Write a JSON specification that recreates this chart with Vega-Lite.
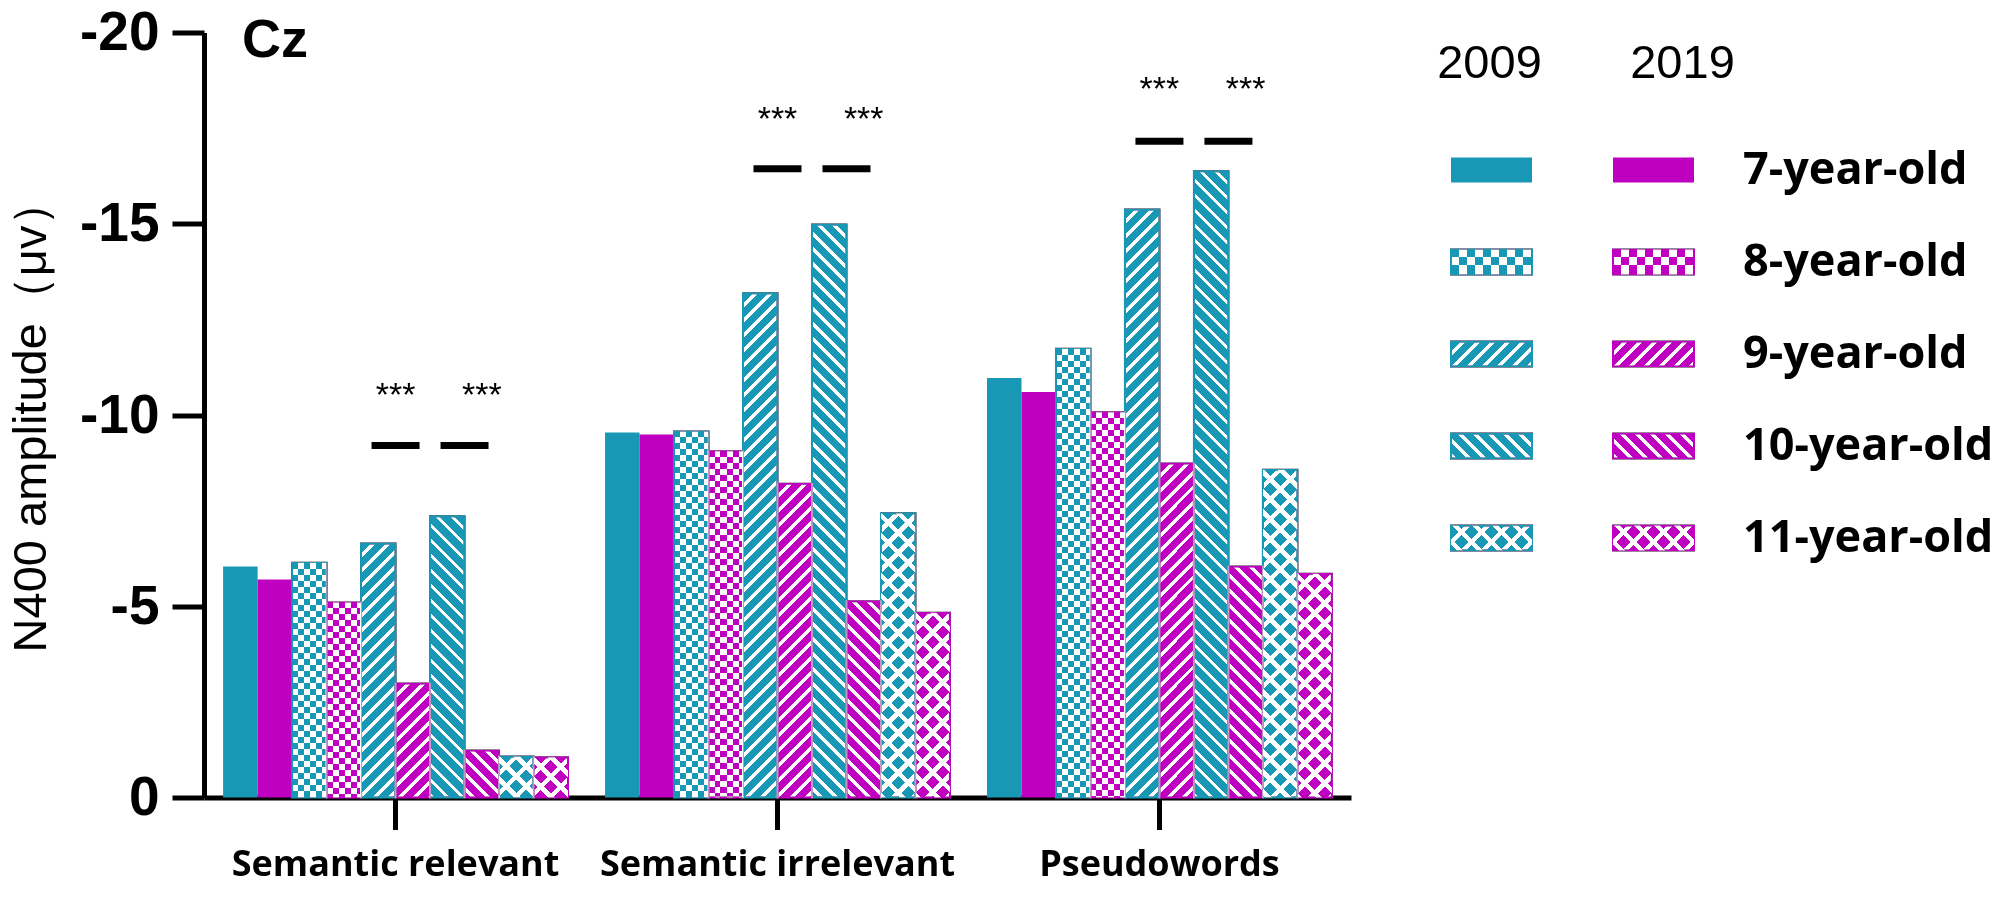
{
"$schema": "https://vega.github.io/schema/vega-lite/v6.json",
"background": "white",
"padding": {"left": 7, "top": 5.5, "right": 0, "bottom": 0},
"spacing": 86,
"params": [{"name": "bw", "value": [
{"offset":0,"color":"#000"},{"offset":0.0142,"color":"#000"},{"offset":0.0142,"color":"#fff"},{"offset":0.0208,"color":"#fff"},
{"offset":0.0208,"color":"#000"},{"offset":0.035,"color":"#000"},{"offset":0.035,"color":"#fff"},{"offset":0.0417,"color":"#fff"},
{"offset":0.0417,"color":"#000"},{"offset":0.0558,"color":"#000"},{"offset":0.0558,"color":"#fff"},{"offset":0.0625,"color":"#fff"},
{"offset":0.0625,"color":"#000"},{"offset":0.0767,"color":"#000"},{"offset":0.0767,"color":"#fff"},{"offset":0.0833,"color":"#fff"},
{"offset":0.0833,"color":"#000"},{"offset":0.0975,"color":"#000"},{"offset":0.0975,"color":"#fff"},{"offset":0.1042,"color":"#fff"},
{"offset":0.1042,"color":"#000"},{"offset":0.1183,"color":"#000"},{"offset":0.1183,"color":"#fff"},{"offset":0.125,"color":"#fff"},
{"offset":0.125,"color":"#000"},{"offset":0.1392,"color":"#000"},{"offset":0.1392,"color":"#fff"},{"offset":0.1458,"color":"#fff"},
{"offset":0.1458,"color":"#000"},{"offset":0.16,"color":"#000"},{"offset":0.16,"color":"#fff"},{"offset":0.1667,"color":"#fff"},
{"offset":0.1667,"color":"#000"},{"offset":0.1808,"color":"#000"},{"offset":0.1808,"color":"#fff"},{"offset":0.1875,"color":"#fff"},
{"offset":0.1875,"color":"#000"},{"offset":0.2017,"color":"#000"},{"offset":0.2017,"color":"#fff"},{"offset":0.2083,"color":"#fff"},
{"offset":0.2083,"color":"#000"},{"offset":0.2225,"color":"#000"},{"offset":0.2225,"color":"#fff"},{"offset":0.2292,"color":"#fff"},
{"offset":0.2292,"color":"#000"},{"offset":0.2433,"color":"#000"},{"offset":0.2433,"color":"#fff"},{"offset":0.25,"color":"#fff"},
{"offset":0.25,"color":"#000"},{"offset":0.2642,"color":"#000"},{"offset":0.2642,"color":"#fff"},{"offset":0.2708,"color":"#fff"},
{"offset":0.2708,"color":"#000"},{"offset":0.285,"color":"#000"},{"offset":0.285,"color":"#fff"},{"offset":0.2917,"color":"#fff"},
{"offset":0.2917,"color":"#000"},{"offset":0.3058,"color":"#000"},{"offset":0.3058,"color":"#fff"},{"offset":0.3125,"color":"#fff"},
{"offset":0.3125,"color":"#000"},{"offset":0.3267,"color":"#000"},{"offset":0.3267,"color":"#fff"},{"offset":0.3333,"color":"#fff"},
{"offset":0.3333,"color":"#000"},{"offset":0.3475,"color":"#000"},{"offset":0.3475,"color":"#fff"},{"offset":0.3542,"color":"#fff"},
{"offset":0.3542,"color":"#000"},{"offset":0.3683,"color":"#000"},{"offset":0.3683,"color":"#fff"},{"offset":0.375,"color":"#fff"},
{"offset":0.375,"color":"#000"},{"offset":0.3892,"color":"#000"},{"offset":0.3892,"color":"#fff"},{"offset":0.3958,"color":"#fff"},
{"offset":0.3958,"color":"#000"},{"offset":0.41,"color":"#000"},{"offset":0.41,"color":"#fff"},{"offset":0.4167,"color":"#fff"},
{"offset":0.4167,"color":"#000"},{"offset":0.4308,"color":"#000"},{"offset":0.4308,"color":"#fff"},{"offset":0.4375,"color":"#fff"},
{"offset":0.4375,"color":"#000"},{"offset":0.4517,"color":"#000"},{"offset":0.4517,"color":"#fff"},{"offset":0.4583,"color":"#fff"},
{"offset":0.4583,"color":"#000"},{"offset":0.4725,"color":"#000"},{"offset":0.4725,"color":"#fff"},{"offset":0.4792,"color":"#fff"},
{"offset":0.4792,"color":"#000"},{"offset":0.4933,"color":"#000"},{"offset":0.4933,"color":"#fff"},{"offset":0.5,"color":"#fff"},
{"offset":0.5,"color":"#000"},{"offset":0.5142,"color":"#000"},{"offset":0.5142,"color":"#fff"},{"offset":0.5208,"color":"#fff"},
{"offset":0.5208,"color":"#000"},{"offset":0.535,"color":"#000"},{"offset":0.535,"color":"#fff"},{"offset":0.5417,"color":"#fff"},
{"offset":0.5417,"color":"#000"},{"offset":0.5558,"color":"#000"},{"offset":0.5558,"color":"#fff"},{"offset":0.5625,"color":"#fff"},
{"offset":0.5625,"color":"#000"},{"offset":0.5767,"color":"#000"},{"offset":0.5767,"color":"#fff"},{"offset":0.5833,"color":"#fff"},
{"offset":0.5833,"color":"#000"},{"offset":0.5975,"color":"#000"},{"offset":0.5975,"color":"#fff"},{"offset":0.6042,"color":"#fff"},
{"offset":0.6042,"color":"#000"},{"offset":0.6183,"color":"#000"},{"offset":0.6183,"color":"#fff"},{"offset":0.625,"color":"#fff"},
{"offset":0.625,"color":"#000"},{"offset":0.6392,"color":"#000"},{"offset":0.6392,"color":"#fff"},{"offset":0.6458,"color":"#fff"},
{"offset":0.6458,"color":"#000"},{"offset":0.66,"color":"#000"},{"offset":0.66,"color":"#fff"},{"offset":0.6667,"color":"#fff"},
{"offset":0.6667,"color":"#000"},{"offset":0.6808,"color":"#000"},{"offset":0.6808,"color":"#fff"},{"offset":0.6875,"color":"#fff"},
{"offset":0.6875,"color":"#000"},{"offset":0.7017,"color":"#000"},{"offset":0.7017,"color":"#fff"},{"offset":0.7083,"color":"#fff"},
{"offset":0.7083,"color":"#000"},{"offset":0.7225,"color":"#000"},{"offset":0.7225,"color":"#fff"},{"offset":0.7292,"color":"#fff"},
{"offset":0.7292,"color":"#000"},{"offset":0.7433,"color":"#000"},{"offset":0.7433,"color":"#fff"},{"offset":0.75,"color":"#fff"},
{"offset":0.75,"color":"#000"},{"offset":0.7642,"color":"#000"},{"offset":0.7642,"color":"#fff"},{"offset":0.7708,"color":"#fff"},
{"offset":0.7708,"color":"#000"},{"offset":0.785,"color":"#000"},{"offset":0.785,"color":"#fff"},{"offset":0.7917,"color":"#fff"},
{"offset":0.7917,"color":"#000"},{"offset":0.8058,"color":"#000"},{"offset":0.8058,"color":"#fff"},{"offset":0.8125,"color":"#fff"},
{"offset":0.8125,"color":"#000"},{"offset":0.8267,"color":"#000"},{"offset":0.8267,"color":"#fff"},{"offset":0.8333,"color":"#fff"},
{"offset":0.8333,"color":"#000"},{"offset":0.8475,"color":"#000"},{"offset":0.8475,"color":"#fff"},{"offset":0.8542,"color":"#fff"},
{"offset":0.8542,"color":"#000"},{"offset":0.8683,"color":"#000"},{"offset":0.8683,"color":"#fff"},{"offset":0.875,"color":"#fff"},
{"offset":0.875,"color":"#000"},{"offset":0.8892,"color":"#000"},{"offset":0.8892,"color":"#fff"},{"offset":0.8958,"color":"#fff"},
{"offset":0.8958,"color":"#000"},{"offset":0.91,"color":"#000"},{"offset":0.91,"color":"#fff"},{"offset":0.9167,"color":"#fff"},
{"offset":0.9167,"color":"#000"},{"offset":0.9308,"color":"#000"},{"offset":0.9308,"color":"#fff"},{"offset":0.9375,"color":"#fff"},
{"offset":0.9375,"color":"#000"},{"offset":0.9517,"color":"#000"},{"offset":0.9517,"color":"#fff"},{"offset":0.9583,"color":"#fff"},
{"offset":0.9583,"color":"#000"},{"offset":0.9725,"color":"#000"},{"offset":0.9725,"color":"#fff"},{"offset":0.9792,"color":"#fff"},
{"offset":0.9792,"color":"#000"},{"offset":0.9933,"color":"#000"},{"offset":0.9933,"color":"#fff"},{"offset":1,"color":"#fff"}
]},
{"name": "bw5", "value": [
{"offset":0,"color":"#000"},{"offset":0.0104,"color":"#000"},{"offset":0.0104,"color":"#fff"},{"offset":0.0208,"color":"#fff"},
{"offset":0.0208,"color":"#000"},{"offset":0.0313,"color":"#000"},{"offset":0.0313,"color":"#fff"},{"offset":0.0417,"color":"#fff"},
{"offset":0.0417,"color":"#000"},{"offset":0.0521,"color":"#000"},{"offset":0.0521,"color":"#fff"},{"offset":0.0625,"color":"#fff"},
{"offset":0.0625,"color":"#000"},{"offset":0.0729,"color":"#000"},{"offset":0.0729,"color":"#fff"},{"offset":0.0833,"color":"#fff"},
{"offset":0.0833,"color":"#000"},{"offset":0.0938,"color":"#000"},{"offset":0.0938,"color":"#fff"},{"offset":0.1042,"color":"#fff"},
{"offset":0.1042,"color":"#000"},{"offset":0.1146,"color":"#000"},{"offset":0.1146,"color":"#fff"},{"offset":0.125,"color":"#fff"},
{"offset":0.125,"color":"#000"},{"offset":0.1354,"color":"#000"},{"offset":0.1354,"color":"#fff"},{"offset":0.1458,"color":"#fff"},
{"offset":0.1458,"color":"#000"},{"offset":0.1563,"color":"#000"},{"offset":0.1563,"color":"#fff"},{"offset":0.1667,"color":"#fff"},
{"offset":0.1667,"color":"#000"},{"offset":0.1771,"color":"#000"},{"offset":0.1771,"color":"#fff"},{"offset":0.1875,"color":"#fff"},
{"offset":0.1875,"color":"#000"},{"offset":0.1979,"color":"#000"},{"offset":0.1979,"color":"#fff"},{"offset":0.2083,"color":"#fff"},
{"offset":0.2083,"color":"#000"},{"offset":0.2188,"color":"#000"},{"offset":0.2188,"color":"#fff"},{"offset":0.2292,"color":"#fff"},
{"offset":0.2292,"color":"#000"},{"offset":0.2396,"color":"#000"},{"offset":0.2396,"color":"#fff"},{"offset":0.25,"color":"#fff"},
{"offset":0.25,"color":"#000"},{"offset":0.2604,"color":"#000"},{"offset":0.2604,"color":"#fff"},{"offset":0.2708,"color":"#fff"},
{"offset":0.2708,"color":"#000"},{"offset":0.2813,"color":"#000"},{"offset":0.2813,"color":"#fff"},{"offset":0.2917,"color":"#fff"},
{"offset":0.2917,"color":"#000"},{"offset":0.3021,"color":"#000"},{"offset":0.3021,"color":"#fff"},{"offset":0.3125,"color":"#fff"},
{"offset":0.3125,"color":"#000"},{"offset":0.3229,"color":"#000"},{"offset":0.3229,"color":"#fff"},{"offset":0.3333,"color":"#fff"},
{"offset":0.3333,"color":"#000"},{"offset":0.3438,"color":"#000"},{"offset":0.3438,"color":"#fff"},{"offset":0.3542,"color":"#fff"},
{"offset":0.3542,"color":"#000"},{"offset":0.3646,"color":"#000"},{"offset":0.3646,"color":"#fff"},{"offset":0.375,"color":"#fff"},
{"offset":0.375,"color":"#000"},{"offset":0.3854,"color":"#000"},{"offset":0.3854,"color":"#fff"},{"offset":0.3958,"color":"#fff"},
{"offset":0.3958,"color":"#000"},{"offset":0.4063,"color":"#000"},{"offset":0.4063,"color":"#fff"},{"offset":0.4167,"color":"#fff"},
{"offset":0.4167,"color":"#000"},{"offset":0.4271,"color":"#000"},{"offset":0.4271,"color":"#fff"},{"offset":0.4375,"color":"#fff"},
{"offset":0.4375,"color":"#000"},{"offset":0.4479,"color":"#000"},{"offset":0.4479,"color":"#fff"},{"offset":0.4583,"color":"#fff"},
{"offset":0.4583,"color":"#000"},{"offset":0.4688,"color":"#000"},{"offset":0.4688,"color":"#fff"},{"offset":0.4792,"color":"#fff"},
{"offset":0.4792,"color":"#000"},{"offset":0.4896,"color":"#000"},{"offset":0.4896,"color":"#fff"},{"offset":0.5,"color":"#fff"},
{"offset":0.5,"color":"#000"},{"offset":0.5104,"color":"#000"},{"offset":0.5104,"color":"#fff"},{"offset":0.5208,"color":"#fff"},
{"offset":0.5208,"color":"#000"},{"offset":0.5313,"color":"#000"},{"offset":0.5313,"color":"#fff"},{"offset":0.5417,"color":"#fff"},
{"offset":0.5417,"color":"#000"},{"offset":0.5521,"color":"#000"},{"offset":0.5521,"color":"#fff"},{"offset":0.5625,"color":"#fff"},
{"offset":0.5625,"color":"#000"},{"offset":0.5729,"color":"#000"},{"offset":0.5729,"color":"#fff"},{"offset":0.5833,"color":"#fff"},
{"offset":0.5833,"color":"#000"},{"offset":0.5938,"color":"#000"},{"offset":0.5938,"color":"#fff"},{"offset":0.6042,"color":"#fff"},
{"offset":0.6042,"color":"#000"},{"offset":0.6146,"color":"#000"},{"offset":0.6146,"color":"#fff"},{"offset":0.625,"color":"#fff"},
{"offset":0.625,"color":"#000"},{"offset":0.6354,"color":"#000"},{"offset":0.6354,"color":"#fff"},{"offset":0.6458,"color":"#fff"},
{"offset":0.6458,"color":"#000"},{"offset":0.6563,"color":"#000"},{"offset":0.6563,"color":"#fff"},{"offset":0.6667,"color":"#fff"},
{"offset":0.6667,"color":"#000"},{"offset":0.6771,"color":"#000"},{"offset":0.6771,"color":"#fff"},{"offset":0.6875,"color":"#fff"},
{"offset":0.6875,"color":"#000"},{"offset":0.6979,"color":"#000"},{"offset":0.6979,"color":"#fff"},{"offset":0.7083,"color":"#fff"},
{"offset":0.7083,"color":"#000"},{"offset":0.7188,"color":"#000"},{"offset":0.7188,"color":"#fff"},{"offset":0.7292,"color":"#fff"},
{"offset":0.7292,"color":"#000"},{"offset":0.7396,"color":"#000"},{"offset":0.7396,"color":"#fff"},{"offset":0.75,"color":"#fff"},
{"offset":0.75,"color":"#000"},{"offset":0.7604,"color":"#000"},{"offset":0.7604,"color":"#fff"},{"offset":0.7708,"color":"#fff"},
{"offset":0.7708,"color":"#000"},{"offset":0.7813,"color":"#000"},{"offset":0.7813,"color":"#fff"},{"offset":0.7917,"color":"#fff"},
{"offset":0.7917,"color":"#000"},{"offset":0.8021,"color":"#000"},{"offset":0.8021,"color":"#fff"},{"offset":0.8125,"color":"#fff"},
{"offset":0.8125,"color":"#000"},{"offset":0.8229,"color":"#000"},{"offset":0.8229,"color":"#fff"},{"offset":0.8333,"color":"#fff"},
{"offset":0.8333,"color":"#000"},{"offset":0.8438,"color":"#000"},{"offset":0.8438,"color":"#fff"},{"offset":0.8542,"color":"#fff"},
{"offset":0.8542,"color":"#000"},{"offset":0.8646,"color":"#000"},{"offset":0.8646,"color":"#fff"},{"offset":0.875,"color":"#fff"},
{"offset":0.875,"color":"#000"},{"offset":0.8854,"color":"#000"},{"offset":0.8854,"color":"#fff"},{"offset":0.8958,"color":"#fff"},
{"offset":0.8958,"color":"#000"},{"offset":0.9063,"color":"#000"},{"offset":0.9063,"color":"#fff"},{"offset":0.9167,"color":"#fff"},
{"offset":0.9167,"color":"#000"},{"offset":0.9271,"color":"#000"},{"offset":0.9271,"color":"#fff"},{"offset":0.9375,"color":"#fff"},
{"offset":0.9375,"color":"#000"},{"offset":0.9479,"color":"#000"},{"offset":0.9479,"color":"#fff"},{"offset":0.9583,"color":"#fff"},
{"offset":0.9583,"color":"#000"},{"offset":0.9688,"color":"#000"},{"offset":0.9688,"color":"#fff"},{"offset":0.9792,"color":"#fff"},
{"offset":0.9792,"color":"#000"},{"offset":0.9896,"color":"#000"},{"offset":0.9896,"color":"#fff"},{"offset":1,"color":"#fff"}
]}],
"config": {"view": {"stroke": null, "fill": "white"}, "font": "Liberation Sans"},
"resolve": {"scale": {"fill": "independent", "stroke": "independent"}},
"hconcat": [
{
"width": 1147,
"height": 765,
"data": {"values": [
{"g":"Semantic relevant","age":7,"year":2009,"k":"7-2009","v":-6.04},
{"g":"Semantic relevant","age":7,"year":2019,"k":"7-2019","v":-5.7},
{"g":"Semantic relevant","age":8,"year":2009,"k":"8-2009","v":-6.14},
{"g":"Semantic relevant","age":8,"year":2019,"k":"8-2019","v":-5.1},
{"g":"Semantic relevant","age":9,"year":2009,"k":"9-2009","v":-6.64},
{"g":"Semantic relevant","age":9,"year":2019,"k":"9-2019","v":-2.98},
{"g":"Semantic relevant","age":10,"year":2009,"k":"10-2009","v":-7.35},
{"g":"Semantic relevant","age":10,"year":2019,"k":"10-2019","v":-1.23},
{"g":"Semantic relevant","age":11,"year":2009,"k":"11-2009","v":-1.07},
{"g":"Semantic relevant","age":11,"year":2019,"k":"11-2019","v":-1.05},
{"g":"Semantic irrelevant","age":7,"year":2009,"k":"7-2009","v":-9.54},
{"g":"Semantic irrelevant","age":7,"year":2019,"k":"7-2019","v":-9.49},
{"g":"Semantic irrelevant","age":8,"year":2009,"k":"8-2009","v":-9.57},
{"g":"Semantic irrelevant","age":8,"year":2019,"k":"8-2019","v":-9.05},
{"g":"Semantic irrelevant","age":9,"year":2009,"k":"9-2009","v":-13.18},
{"g":"Semantic irrelevant","age":9,"year":2019,"k":"9-2019","v":-8.2},
{"g":"Semantic irrelevant","age":10,"year":2009,"k":"10-2009","v":-14.98},
{"g":"Semantic irrelevant","age":10,"year":2019,"k":"10-2019","v":-5.13},
{"g":"Semantic irrelevant","age":11,"year":2009,"k":"11-2009","v":-7.43},
{"g":"Semantic irrelevant","age":11,"year":2019,"k":"11-2019","v":-4.83},
{"g":"Pseudowords","age":7,"year":2009,"k":"7-2009","v":-10.97},
{"g":"Pseudowords","age":7,"year":2019,"k":"7-2019","v":-10.6},
{"g":"Pseudowords","age":8,"year":2009,"k":"8-2009","v":-11.73},
{"g":"Pseudowords","age":8,"year":2019,"k":"8-2019","v":-10.07},
{"g":"Pseudowords","age":9,"year":2009,"k":"9-2009","v":-15.37},
{"g":"Pseudowords","age":9,"year":2019,"k":"9-2019","v":-8.73},
{"g":"Pseudowords","age":10,"year":2009,"k":"10-2009","v":-16.37},
{"g":"Pseudowords","age":10,"year":2019,"k":"10-2019","v":-6.04},
{"g":"Pseudowords","age":11,"year":2009,"k":"11-2009","v":-8.57},
{"g":"Pseudowords","age":11,"year":2019,"k":"11-2019","v":-5.85}
]},
"encoding": {
"x": {"field": "g", "type": "nominal", "title": null,
 "scale": {"domain": ["Semantic relevant","Semantic irrelevant","Pseudowords"], "paddingInner": 0.097, "paddingOuter": 0.05},
 "axis": {"labelAngle": 0, "labelLimit": 0, "tickSize": 32, "tickWidth": 5, "tickColor": "#000", "domainWidth": 5, "domainColor": "#000",
  "labelFont": "Open Sans", "labelFontWeight": "bold", "labelFontSize": 36, "labelColor": "#000", "labelPadding": 18}},
"y": {"field": "v", "type": "quantitative", "title": "N400 amplitude（μv）",
 "scale": {"domain": [-20, 0], "reverse": true, "nice": false, "zero": false},
 "axis": {"values": [-20,-15,-10,-5,0], "labelExpr": "'' + datum.value", "grid": false, "tickSize": 32, "tickWidth": 5, "tickColor": "#000",
  "domainWidth": 5, "domainColor": "#000", "labelFont": "Liberation Sans", "labelFontWeight": "bold", "labelFontSize": 55,
  "labelColor": "#000", "labelPadding": 13, "titleFont": "Liberation Sans", "titleFontWeight": "normal", "titleFontSize": 47,
  "titleColor": "#000", "titlePadding": 24}}
},
"resolve": {"scale": {"xOffset": "independent"}},
"layer": [
{
 "transform": [{"filter": "datum.age == 7"}],
 "mark": {"type": "bar"},
 "encoding": {
  "xOffset": {"field": "k", "type": "nominal", "scale": {"domain": ["7-2009","7-2019","8-2009","8-2019","9-2009","9-2019","10-2009","10-2019","11-2009","11-2019"], "paddingInner": 0, "paddingOuter": 0}},
  "fill": {"field": "year", "type": "nominal", "scale": {"domain": [2009, 2019], "range": ["#1898b5", "#c000c0"]}, "legend": null}
 }
},
{
 "transform": [{"filter": "datum.age >= 8"}],
 "mark": {"type": "bar", "stroke": "#000", "strokeWidth": 2},
 "encoding": {
  "xOffset": {"field": "k", "type": "nominal", "scale": {"domain": ["7-2009","7-2019","8-2009","8-2019","9-2009","9-2019","10-2009","10-2019","11-2009","11-2019"], "paddingInner": 0, "paddingOuter": 0}},
  "fill": {"value": {"expr": "datum.age==8 ? {gradient:'linear',x1:0,y1:0,x2:0,y2:15.059/abs(datum.v),stops:bw5} : datum.age==9 ? {gradient:'linear',x1:0,y1:0,x2:24840/(1190.25+1463.0625*datum.v*datum.v),y2:27540*abs(datum.v)/(1190.25+1463.0625*datum.v*datum.v),stops:bw} : datum.age==10 ? {gradient:'linear',x1:1,y1:0,x2:1-24840/(1190.25+1463.0625*datum.v*datum.v),y2:27540*abs(datum.v)/(1190.25+1463.0625*datum.v*datum.v),stops:bw} : {gradient:'linear',x1:0,y1:0,x2:33120/(1190.25+1463.0625*datum.v*datum.v),y2:36720*abs(datum.v)/(1190.25+1463.0625*datum.v*datum.v),stops:bw}"}}
 }
},
{
 "transform": [{"filter": "datum.age == 8"}],
 "mark": {"type": "bar", "blend": "difference"},
 "encoding": {
  "xOffset": {"field": "k", "type": "nominal", "scale": {"domain": ["7-2009","7-2019","8-2009","8-2019","9-2009","9-2019","10-2009","10-2019","11-2009","11-2019"], "paddingInner": 0, "paddingOuter": 0}},
  "fill": {"value": {"expr": "{gradient:'linear',x1:0,y1:0,x2:16.696,y2:0,stops:bw5}"}}
 }
},
{
 "transform": [{"filter": "datum.age == 11"}],
 "mark": {"type": "bar", "blend": "lighten"},
 "encoding": {
  "xOffset": {"field": "k", "type": "nominal", "scale": {"domain": ["7-2009","7-2019","8-2009","8-2019","9-2009","9-2019","10-2009","10-2019","11-2009","11-2019"], "paddingInner": 0, "paddingOuter": 0}},
  "fill": {"value": {"expr": "{gradient:'linear',x1:1,y1:0,x2:1-33120/(1190.25+1463.0625*datum.v*datum.v),y2:36720*abs(datum.v)/(1190.25+1463.0625*datum.v*datum.v),stops:bw}"}}
 }
},
{
 "transform": [{"filter": "datum.age >= 8"}],
 "mark": {"type": "bar", "blend": "lighten", "strokeWidth": 2},
 "encoding": {
  "xOffset": {"field": "k", "type": "nominal", "scale": {"domain": ["7-2009","7-2019","8-2009","8-2019","9-2009","9-2019","10-2009","10-2019","11-2009","11-2019"], "paddingInner": 0, "paddingOuter": 0}},
  "fill": {"field": "year", "type": "nominal", "scale": {"domain": [2009, 2019], "range": ["#1898b5", "#c000c0"]}, "legend": null},
  "stroke": {"field": "year", "type": "nominal", "scale": {"domain": [2009, 2019], "range": ["#1898b5", "#c000c0"]}, "legend": null}
 }
},
{
 "data": {"values": [
  {"g":"Semantic relevant","age":9,"v":-10.5,"t":"***"},
  {"g":"Semantic relevant","age":10,"v":-10.5,"t":"***"},
  {"g":"Semantic irrelevant","age":9,"v":-17.71,"t":"***"},
  {"g":"Semantic irrelevant","age":10,"v":-17.71,"t":"***"},
  {"g":"Pseudowords","age":9,"v":-18.5,"t":"***"},
  {"g":"Pseudowords","age":10,"v":-18.5,"t":"***"}
 ]},
 "mark": {"type": "text", "font": "Liberation Sans", "fontSize": 34, "baseline": "middle", "color": "#000"},
 "encoding": {
  "xOffset": {"field": "age", "type": "nominal", "scale": {"domain": [7,8,9,10,11], "paddingInner": 0, "paddingOuter": 0}},
  "text": {"field": "t"}
 }
},
{
 "data": {"values": [
  {"g":"Semantic relevant","age":9,"v":-9.2},
  {"g":"Semantic relevant","age":10,"v":-9.2},
  {"g":"Semantic irrelevant","age":9,"v":-16.44},
  {"g":"Semantic irrelevant","age":10,"v":-16.44},
  {"g":"Pseudowords","age":9,"v":-17.16},
  {"g":"Pseudowords","age":10,"v":-17.16}
 ]},
 "mark": {"type": "tick", "orient": "horizontal", "size": 48, "thickness": 7, "color": "#000", "opacity": 1},
 "encoding": {
  "xOffset": {"field": "age", "type": "nominal", "scale": {"domain": [7,8,9,10,11], "paddingInner": 0, "paddingOuter": 0}}
 }
},
{
 "data": {"values": [{"g":"Semantic relevant","age":7,"v":-19.37,"t":"Cz"}]},
 "mark": {"type": "text", "font": "Liberation Sans", "fontWeight": "bold", "fontSize": 54, "align": "center", "dx": 52, "baseline": "alphabetic", "color": "#000"},
 "encoding": {
  "xOffset": {"field": "age", "type": "nominal", "scale": {"domain": [7,8,9,10,11], "paddingInner": 0, "paddingOuter": 0}},
  "text": {"field": "t"}
 }
}
]
},
{
"width": 405,
"height": 551,
"data": {"values": [
 {"c":"2009","r":"7"},{"c":"2019","r":"7"},
 {"c":"2009","r":"8"},{"c":"2019","r":"8"},
 {"c":"2009","r":"9"},{"c":"2019","r":"9"},
 {"c":"2009","r":"10"},{"c":"2019","r":"10"},
 {"c":"2009","r":"11"},{"c":"2019","r":"11"}
]},
"encoding": {
 "x": {"field": "c", "type": "nominal", "scale": {"domain": ["2009","2019","lbl"], "paddingInner": 0.5, "paddingOuter": 0}, "axis": null},
 "y": {"field": "r", "type": "nominal", "scale": {"domain": ["h","7","8","9","10","11"], "paddingInner": 0.728, "paddingOuter": 0.3587}, "axis": null}
},
"layer": [
{
 "transform": [{"filter": "datum.r == '7'"}],
 "mark": {"type": "rect"},
 "encoding": {"fill": {"condition": {"test": "datum.c == '2009'", "value": "#1898b5"}, "value": "#c000c0"}}
},
{
 "transform": [{"filter": "datum.r != '7'"}],
 "mark": {"type": "rect", "stroke": "#000", "strokeWidth": 2},
 "encoding": {"fill": {"value": {"expr": "datum.r=='8' ? {gradient:'linear',x1:0,y1:0,x2:0,y2:30.72,stops:bw5} : datum.r=='9' ? {gradient:'linear',x1:0,y1:0,x2:8.116,y2:2.505,stops:bw} : datum.r=='10' ? {gradient:'linear',x1:1,y1:0,x2:-7.116,y2:2.505,stops:bw} : {gradient:'linear',x1:0,y1:0,x2:10.821,y2:3.34,stops:bw}"}}}
},
{
 "transform": [{"filter": "datum.r == '8'"}],
 "mark": {"type": "rect", "blend": "difference"},
 "encoding": {"fill": {"value": {"expr": "{gradient:'linear',x1:0,y1:0,x2:9.481,y2:0,stops:bw5}"}}}
},
{
 "transform": [{"filter": "datum.r == '11'"}],
 "mark": {"type": "rect", "blend": "lighten"},
 "encoding": {"fill": {"value": {"expr": "{gradient:'linear',x1:1,y1:0,x2:-9.821,y2:3.34,stops:bw}"}}}
},
{
 "transform": [{"filter": "datum.r != '7'"}],
 "mark": {"type": "rect", "blend": "lighten", "strokeWidth": 2},
 "encoding": {
  "fill": {"condition": {"test": "datum.c == '2009'", "value": "#1898b5"}, "value": "#c000c0"},
  "stroke": {"condition": {"test": "datum.c == '2009'", "value": "#1898b5"}, "value": "#c000c0"}
 }
},
{
 "data": {"values": [{"c":"2009","r":"h","t":"2009"}]},
 "mark": {"type": "text", "font": "Liberation Sans", "fontSize": 47, "baseline": "middle", "dy": -14, "dx": -2, "color": "#000"},
 "encoding": {"text": {"field": "t"}}
},
{
 "data": {"values": [{"c":"2019","r":"h","t":"2019"}]},
 "mark": {"type": "text", "font": "Liberation Sans", "fontSize": 47, "baseline": "middle", "dy": -14, "dx": 29, "color": "#000"},
 "encoding": {"text": {"field": "t"}}
},
{
 "data": {"values": [
  {"c":"lbl","r":"7","t":"7-year-old"},
  {"c":"lbl","r":"8","t":"8-year-old"},
  {"c":"lbl","r":"9","t":"9-year-old"},
  {"c":"lbl","r":"10","t":"10-year-old"},
  {"c":"lbl","r":"11","t":"11-year-old"}
 ]},
 "mark": {"type": "text", "font": "Open Sans", "fontWeight": "bold", "fontSize": 45, "align": "left", "baseline": "middle", "dx": -32, "color": "#000"},
 "encoding": {
  "x": {"field": "c", "type": "nominal", "bandPosition": 0, "axis": null},
  "text": {"field": "t"}
 }
}
]
}
]
}
